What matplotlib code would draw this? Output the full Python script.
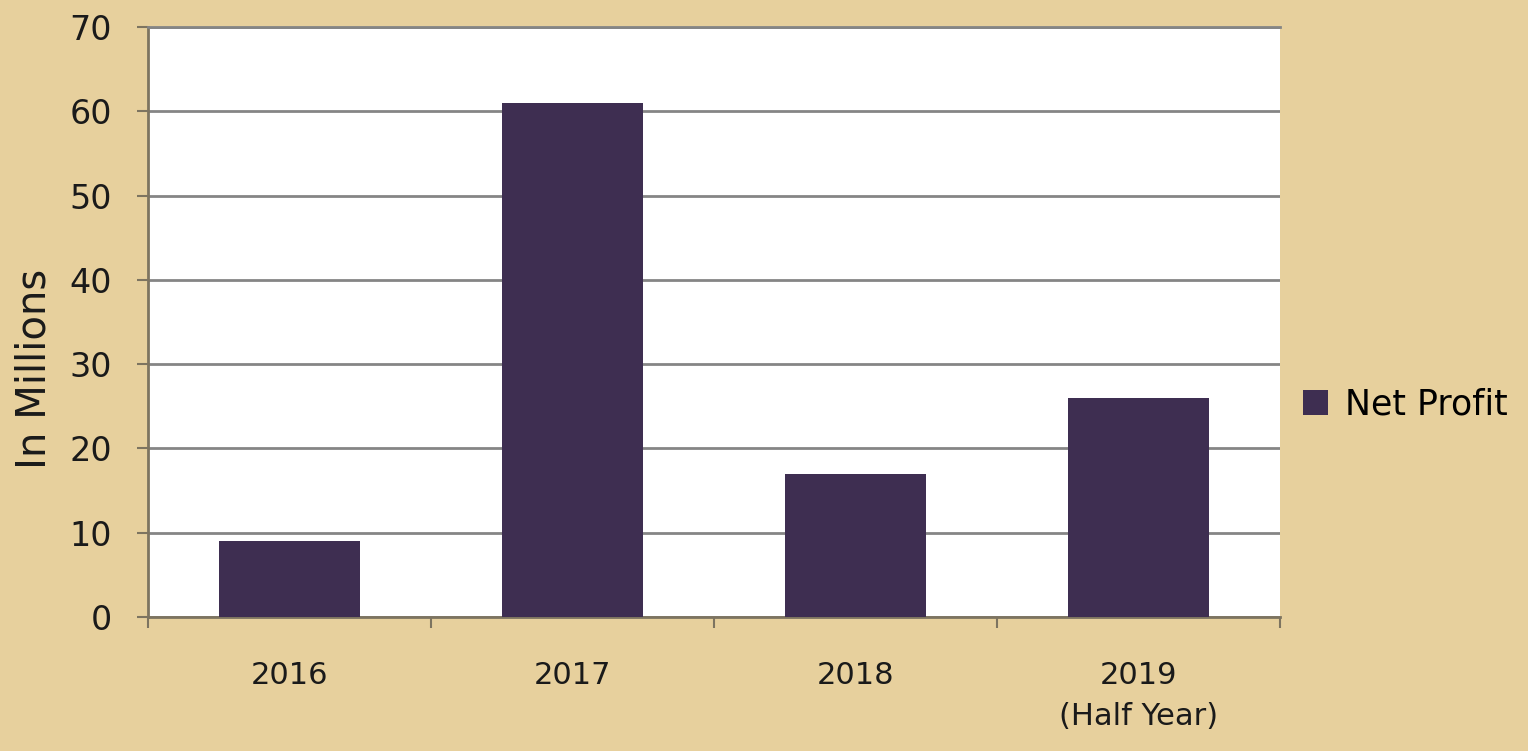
import matplotlib.pyplot as plt
from matplotlib.patches import Patch

plt.rcParams['font.family'] = ['DejaVu Sans']

# net profit per year, in millions
years = ['2016', '2017', '2018', '2019\n(Half Year)']
net_profit = [9, 61, 17, 26]
y_ticks = [0, 10, 20, 30, 40, 50, 60, 70]

bg_color = '#e7d09d'
bar_color = '#3e2e51'
grid_color = '#858585'
axis_color = '#7d7460'
text_color = '#1a1a1a'

fig = plt.figure(figsize=(15.28, 7.51), dpi=100)
fig.patch.set_facecolor(bg_color)
ax = fig.add_axes([0.0969, 0.1784, 0.7408, 0.7856])
ax.set_facecolor('white')

x = range(len(years))
ax.bar(x, net_profit, width=0.5, color=bar_color, zorder=3)

ax.set_xlim(-0.5, len(years) - 0.5)
ax.set_ylim(0, 70)
ax.set_yticks(y_ticks)
ax.set_yticklabels([str(t) for t in y_ticks], fontsize=24, color=text_color)
ax.yaxis.grid(True, color=grid_color, linewidth=2, zorder=1)

# category labels centred, tick marks between categories
ax.set_xticks(list(x))
ax.set_xticklabels(years, fontsize=22, color=text_color, linespacing=1.5)
ax.tick_params(axis='x', length=0, pad=32)
ax.set_xticks([i - 0.5 for i in range(len(years) + 1)], minor=True)
ax.tick_params(axis='x', which='minor', length=8, color=axis_color, width=1.5)
ax.tick_params(axis='y', length=8, color=axis_color, width=1.5, pad=18)

ax.spines['right'].set_visible(False)
ax.spines['top'].set_color(grid_color)
ax.spines['top'].set_linewidth(2)
for side in ['left', 'bottom']:
    ax.spines[side].set_color(axis_color)
    ax.spines[side].set_linewidth(2)

ax.set_ylabel('In Millions', fontsize=29, color=text_color)
ax.yaxis.set_label_coords(-0.083, 0.42)

handle = Patch(facecolor=bar_color, label='Net Profit')
ax.legend(handles=[handle], loc='center left', bbox_to_anchor=(0.993, 0.36),
          frameon=False, fontsize=25, handlelength=0.7, handleheight=0.7,
          handletextpad=0.5)

fig.savefig('out.png', dpi=100, facecolor=bg_color)
